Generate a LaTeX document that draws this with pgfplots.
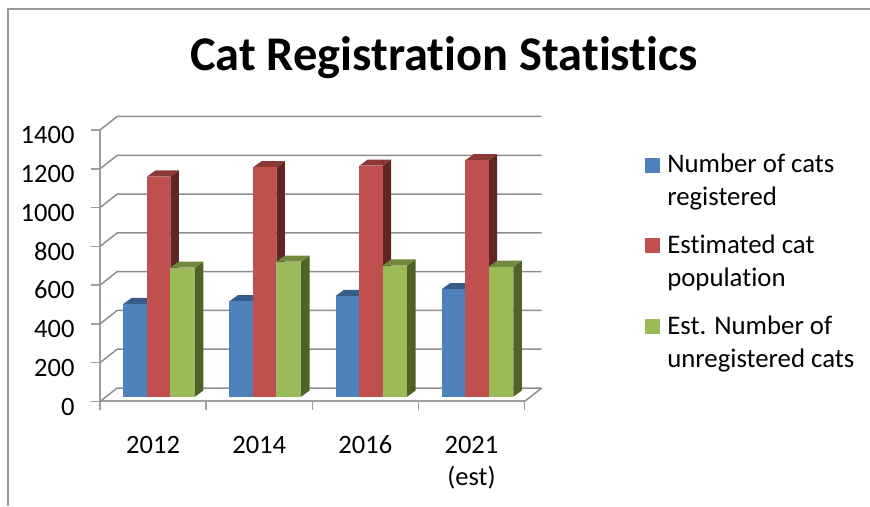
\documentclass[border=0pt]{standalone}
\usepackage{fontspec}
\setmainfont{Carlito}[Ligatures=NoCommon]
\usepackage{pgfplots}
\pgfplotsset{compat=1.18}
\definecolor{barblue}{HTML}{4F81BD}
\definecolor{bluetop}{HTML}{385D8A}
\definecolor{blueside}{HTML}{2C4D75}
\definecolor{barred}{HTML}{C0504D}
\definecolor{redtop}{HTML}{8C3836}
\definecolor{redside}{HTML}{632523}
\definecolor{bargreen}{HTML}{9BBB59}
\definecolor{greentop}{HTML}{71893F}
\definecolor{greenside}{HTML}{4F6228}
\definecolor{gridgray}{HTML}{8E8E8E}
\definecolor{framegray}{HTML}{9A9A9A}

% one face set of a 3D column: x0, x1, value, front, top, side
\newcommand{\onebar}[6]{%
  \pgfmathsetmacro{\yb}{24.8}%
  \pgfmathsetmacro{\yt}{#3+24.8}%
  \pgfmathsetmacro{\xl}{#1}%
  \pgfmathsetmacro{\xr}{#2}%
  \pgfmathsetmacro{\xrr}{#2+0.08}%
  \pgfmathsetmacro{\xlr}{#1+0.08}%
  \pgfmathsetmacro{\ybb}{24.8+32}%
  \pgfmathsetmacro{\ytt}{#3+24.8+32}%
  \addplot[forget plot,fill=#6,draw=none] coordinates {(\xr,\yb) (\xrr,\ybb) (\xrr,\ytt) (\xr,\yt)};
  \addplot[forget plot,fill=#5,draw=none] coordinates {(\xl,\yt) (\xlr,\ytt) (\xrr,\ytt) (\xr,\yt)};
  \addplot[forget plot,fill=#4,draw=none] coordinates {(\xl,\yb) (\xr,\yb) (\xr,\yt) (\xl,\yt)};
}
% group position, then the three values
\newcommand{\group}[4]{%
  \pgfmathsetmacro{\pa}{#1+0.2196}%
  \pgfmathsetmacro{\pb}{#1+0.443}%
  \pgfmathsetmacro{\pc}{#1+0.663}%
  \pgfmathsetmacro{\pd}{#1+0.895}%
  \edef\tmpa{\pa}\edef\tmpb{\pb}\edef\tmpc{\pc}\edef\tmpd{\pd}%
  \onebar{\tmpa}{\tmpb}{#2}{barblue}{bluetop}{blueside}%
  \onebar{\tmpb}{\tmpc}{#3}{barred}{redtop}{redside}%
  \onebar{\tmpc}{\tmpd}{#4}{bargreen}{greentop}{greenside}%
}
% a gridline: side wall, then back wall
\newcommand{\level}[1]{%
  \pgfmathsetmacro{\yv}{#1+69.6}%
  \addplot[forget plot,gridgray,line width=1.5pt] coordinates {(0,#1) (0.162,\yv) (4.162,\yv)};
}

\begin{document}
\begin{tikzpicture}[x=1pt,y=1pt]
\path[use as bounding box] (0,0) rectangle (870,506);
\draw[framegray,line width=2pt] (8,0) -- (8,497) -- (870,497);
\node[font=\fontsize{48.4}{58}\selectfont\bfseries] at (444,448) {Cat Registration Statistics};
\begin{axis}[
    at={(100pt,104.5pt)},
    anchor=origin,
    scale only axis,
    width=424.5pt,
    height=271.5pt,
    xmin=0,xmax=4,
    ymin=0,ymax=1400,
    clip=false,
    axis x line=bottom,
    axis y line=left,
    axis line style={-,draw=gridgray!85,line width=2pt},
    tick align=outside,
    major tick length=9pt,
    minor tick length=8pt,
    xtick={0.5,1.5,2.5,3.5},
    xticklabels={2012,2014,2016,{2021\\(est)}},
    minor xtick={0,1,2,3,4},
    major x tick style={draw=none},
    minor x tick style={draw=gridgray!85,line width=1.5pt},
    ytick={0,200,400,600,800,1000,1200,1400},
    yticklabels={0,200,400,600,800,1000,1200,1400},
    y tick style={draw=gridgray!85,line width=1.5pt},
    tick label style={font=\fontsize{26.5}{32}\selectfont},
    xticklabel style={align=center,yshift=-22pt},
    yticklabel style={xshift=-13pt,yshift=-5pt},
    legend image code/.code={\fill[draw=none,#1] (0pt,8pt) rectangle (15pt,23pt);},
    legend cell align=left,
    legend style={
        at={(1.284,0.919)},anchor=north west,
        draw=none,fill=none,
        row sep=23.5pt,
        font=\fontsize{26.8}{33}\selectfont,
        cells={align=left},
        inner sep=0pt,
        /tikz/column 1/.style={column sep=5pt},
    },
]
\level{0}\level{200}\level{400}\level{600}\level{800}\level{1000}\level{1200}\level{1400}
\addplot[forget plot,gridgray,line width=1.5pt] coordinates {(4,0) (4.162,69.6)};

\group{0}{478}{1135}{665}
\group{1}{492}{1183}{696}
\group{2}{519}{1191}{676}
\group{3}{554}{1219}{670}

\addlegendimage{fill=barblue}
\addlegendentry{Number of cats\\registered}
\addlegendimage{fill=barred}
\addlegendentry{Estimated cat\\population}
\addlegendimage{fill=bargreen}
\addlegendentry{Est. Number of\\unregistered cats}
\end{axis}
\end{tikzpicture}
\end{document}
